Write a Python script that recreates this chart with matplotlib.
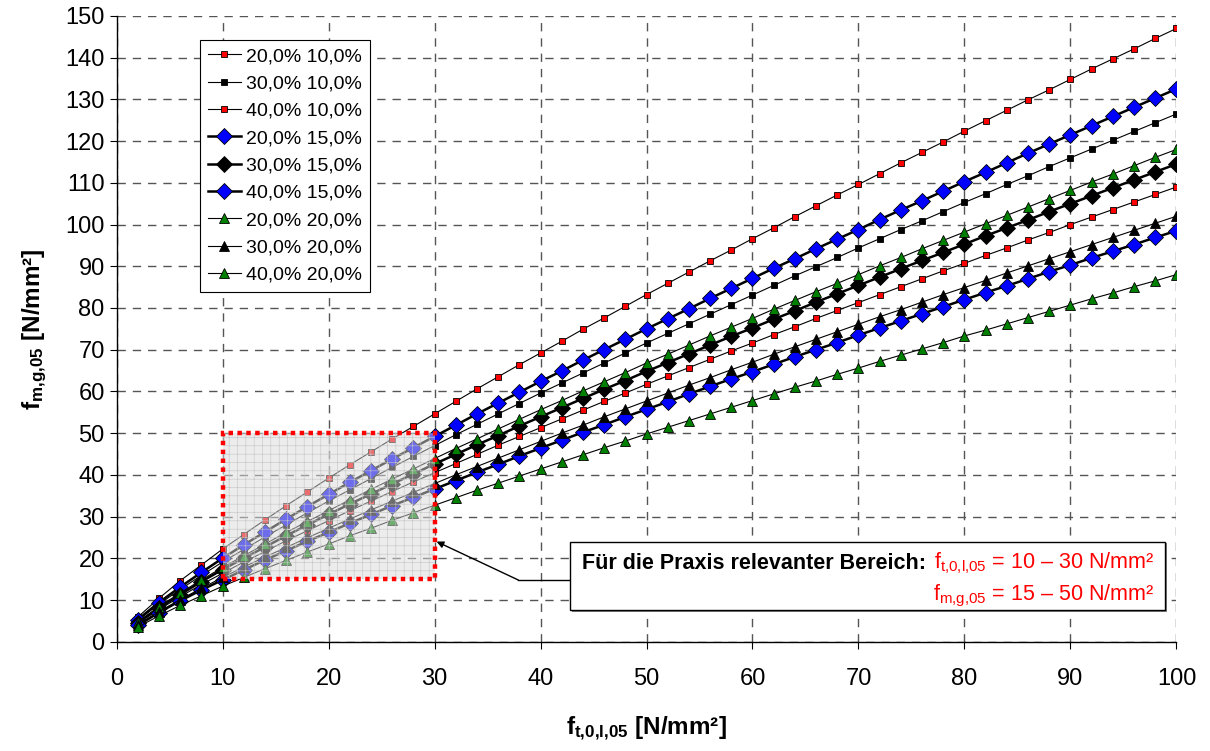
import matplotlib.pyplot as plt
import matplotlib.patches as patches
import numpy as np

plt.rcParams['font.family'] = ['Liberation Sans', 'DejaVu Sans']
plt.rcParams['mathtext.fontset'] = 'custom'
plt.rcParams['mathtext.rm'] = 'Liberation Sans'
plt.rcParams['mathtext.it'] = 'Liberation Sans'
plt.rcParams['mathtext.bf'] = 'Liberation Sans:bold'
plt.rcParams['hatch.linewidth'] = 0.4

#---------------- data
x = list(range(2, 101, 2))

s20_10 = [5.9, 10.4, 14.6, 18.4, 22.2, 25.7, 29.2, 32.6, 35.9, 39.2,
          42.4, 45.5, 48.6, 51.6, 54.6, 57.6, 60.6, 63.5, 66.4, 69.2,
          72.0, 74.9, 77.6, 80.4, 83.2, 85.9, 88.6, 91.3, 93.9, 96.6,
          99.2, 101.9, 104.5, 107.1, 109.6, 112.2, 114.8, 117.3, 119.8, 122.4,
          124.9, 127.4, 129.9, 132.3, 134.8, 137.3, 139.7, 142.1, 144.6, 147.0]
s30_10 = [5.1, 9.0, 12.5, 15.9, 19.1, 22.1, 25.1, 28.0, 30.9, 33.7,
          36.4, 39.1, 41.8, 44.4, 47.0, 49.6, 52.1, 54.6, 57.1, 59.6,
          62.0, 64.4, 66.8, 69.2, 71.6, 73.9, 76.2, 78.5, 80.8, 83.1,
          85.4, 87.7, 89.9, 92.1, 94.4, 96.6, 98.8, 100.9, 103.1, 105.3,
          107.4, 109.6, 111.7, 113.9, 116.0, 118.1, 120.2, 122.3, 124.4, 126.5]
s40_10 = [4.4, 7.7, 10.8, 13.7, 16.4, 19.1, 21.6, 24.2, 26.6, 29.0,
          31.4, 33.7, 36.0, 38.3, 40.5, 42.7, 44.9, 47.1, 49.2, 51.3,
          53.4, 55.5, 57.6, 59.6, 61.7, 63.7, 65.7, 67.7, 69.7, 71.6,
          73.6, 75.5, 77.5, 79.4, 81.3, 83.2, 85.1, 87.0, 88.9, 90.7,
          92.6, 94.4, 96.3, 98.1, 100.0, 101.8, 103.6, 105.4, 107.2, 109.0]
s20_15 = [5.3, 9.4, 13.1, 16.6, 20.0, 23.2, 26.3, 29.4, 32.4, 35.3,
          38.2, 41.0, 43.8, 46.5, 49.2, 51.9, 54.6, 57.2, 59.8, 62.4,
          64.9, 67.5, 70.0, 72.5, 75.0, 77.4, 79.8, 82.3, 84.7, 87.1,
          89.5, 91.8, 94.2, 96.5, 98.8, 101.2, 103.5, 105.7, 108.0, 110.3,
          112.5, 114.8, 117.1, 119.3, 121.5, 123.7, 125.9, 128.1, 130.3, 132.5]
s30_15 = [4.6, 8.1, 11.3, 14.4, 17.3, 20.0, 22.7, 25.4, 28.0, 30.5,
          33.0, 35.4, 37.8, 40.2, 42.6, 44.9, 47.2, 49.4, 51.7, 53.9,
          56.1, 58.3, 60.5, 62.6, 64.8, 66.9, 69.0, 71.1, 73.2, 75.2,
          77.3, 79.3, 81.4, 83.4, 85.4, 87.4, 89.4, 91.4, 93.3, 95.3,
          97.3, 99.2, 101.1, 103.1, 105.0, 106.9, 108.8, 110.7, 112.6, 114.5]
s40_15 = [3.9, 7.0, 9.8, 12.4, 14.8, 17.2, 19.6, 21.8, 24.1, 26.2,
          28.4, 30.5, 32.6, 34.6, 36.6, 38.6, 40.6, 42.5, 44.5, 46.4,
          48.3, 50.2, 52.0, 53.9, 55.7, 57.5, 59.4, 61.2, 63.0, 64.7,
          66.5, 68.3, 70.0, 71.7, 73.5, 75.2, 76.9, 78.6, 80.3, 82.0,
          83.7, 85.3, 87.0, 88.7, 90.3, 92.0, 93.6, 95.2, 96.9, 98.5]
s20_20 = [4.7, 8.4, 11.7, 14.8, 17.8, 20.6, 23.4, 26.2, 28.8, 31.4,
          34.0, 36.5, 39.0, 41.4, 43.9, 46.3, 48.6, 51.0, 53.3, 55.6,
          57.8, 60.1, 62.3, 64.5, 66.8, 68.9, 71.1, 73.3, 75.4, 77.5,
          79.7, 81.8, 83.9, 85.9, 88.0, 90.1, 92.1, 94.2, 96.2, 98.2,
          100.2, 102.2, 104.2, 106.2, 108.2, 110.2, 112.1, 114.1, 116.1, 118.0]
s30_20 = [4.1, 7.2, 10.1, 12.8, 15.4, 17.9, 20.3, 22.6, 24.9, 27.2,
          29.4, 31.6, 33.7, 35.8, 37.9, 40.0, 42.0, 44.0, 46.0, 48.0,
          50.0, 51.9, 53.9, 55.8, 57.7, 59.6, 61.5, 63.3, 65.2, 67.0,
          68.9, 70.7, 72.5, 74.3, 76.1, 77.9, 79.6, 81.4, 83.2, 84.9,
          86.6, 88.4, 90.1, 91.8, 93.5, 95.2, 96.9, 98.6, 100.3, 102.0]
s40_20 = [3.5, 6.2, 8.7, 11.0, 13.3, 15.4, 17.5, 19.5, 21.5, 23.4,
          25.4, 27.2, 29.1, 30.9, 32.7, 34.5, 36.3, 38.0, 39.7, 41.4,
          43.1, 44.8, 46.5, 48.1, 49.8, 51.4, 53.0, 54.6, 56.2, 57.8,
          59.4, 61.0, 62.5, 64.1, 65.6, 67.2, 68.7, 70.2, 71.7, 73.3,
          74.7, 76.2, 77.7, 79.2, 80.7, 82.2, 83.6, 85.1, 86.5, 88.0]

labels = ['20,0% 10,0%', '30,0% 10,0%', '40,0% 10,0%',
          '20,0% 15,0%', '30,0% 15,0%', '40,0% 15,0%',
          '20,0% 20,0%', '30,0% 20,0%', '40,0% 20,0%']
series = [s20_10, s30_10, s40_10, s20_15, s30_15, s40_15, s20_20, s30_20, s40_20]

# marker style per series: (marker, face colour, size, line width)
styles = [('s', '#ff0000', 5.0, 0.8), ('s', 'black', 5.0, 0.8), ('s', '#ff0000', 5.0, 0.8),
          ('D', '#0000ff', 8.0, 1.8), ('D', 'black', 8.0, 1.8), ('D', '#0000ff', 8.0, 1.8),
          ('^', '#008000', 6.5, 0.8), ('^', 'black', 6.5, 0.8), ('^', '#008000', 6.5, 0.8)]

#---------------
fig = plt.figure(figsize=(12.1, 7.51), dpi=100)
ax = fig.add_axes([0.0963, 0.1455, 0.876, 0.8333])

for y, lab, (m, fc, ms, lw) in zip(series, labels, styles):
    ax.plot(x, y, marker=m, color='black', lw=lw, mfc=fc, mec='black',
            ms=ms, mew=0.6, label=lab, zorder=3)

ax.set_xlim(0, 100)
ax.set_ylim(0, 150)
ax.set_xticks(np.arange(0, 101, 10))
ax.set_yticks(np.arange(0, 151, 10))
ax.grid(True, color='#555555', linestyle=(0, (6, 5)), linewidth=1.0, zorder=1)
ax.set_axisbelow(True)
for side in ['top', 'right']:
    ax.spines[side].set_visible(False)
ax.spines['left'].set_linewidth(1.0)
ax.spines['bottom'].set_linewidth(1.0)
ax.tick_params(axis='both', direction='out', length=5, width=0.8, labelsize=17)
ax.tick_params(axis='x', pad=14)

ax.set_xlabel(r'$\mathbf{f}_{\mathbf{t{,}0{,}l{,}05}}$ [N/mm²]', fontsize=17.5,
              fontweight='bold', labelpad=18)
ax.set_ylabel(r'$\mathbf{f}_{\mathbf{m{,}g{,}05}}$ [N/mm²]', fontsize=17.5,
              fontweight='bold', labelpad=12)

# relevant range
shade = patches.Rectangle((10, 15), 20, 35, facecolor=(0.86, 0.86, 0.86, 0.5),
                          edgecolor='#c4c4c4', lw=0, hatch='++', zorder=4)
ax.add_patch(shade)
border = patches.Rectangle((10, 15), 20, 35, fill=False, edgecolor='#ff0000',
                           lw=3.2, linestyle=(0, (1, 1)), zorder=5)
ax.add_patch(border)

# annotation box
shadow = patches.Rectangle((43.0, 7.2), 56.1, 16.4, facecolor='#7f7f7f',
                           lw=0, zorder=6)
ax.add_patch(shadow)
box = patches.Rectangle((42.8, 7.6), 56.1, 16.4, facecolor='white',
                        edgecolor='black', lw=1.0, zorder=7)
ax.add_patch(box)
ax.plot([37.9, 42.8], [14.8, 14.8], color='black', lw=1.0, zorder=6)
ax.annotate('', xy=(30.2, 24.0), xytext=(37.9, 14.8),
            arrowprops=dict(arrowstyle='-|>', color='black', lw=1.0,
                            mutation_scale=10, shrinkA=0, shrinkB=0),
            zorder=6)
ax.text(43.9, 18.8, 'Für die Praxis relevanter Bereich:', fontsize=15.5,
        fontweight='bold', ha='left', va='center', zorder=8)
ax.text(97.9, 18.8, r'$\mathrm{f}_{\mathrm{t{,}0{,}l{,}05}}$ = 10 – 30 N/mm²', fontsize=15.5,
        color='#ff0000', ha='right', va='center', zorder=8)
ax.text(97.9, 10.9, r'$\mathrm{f}_{\mathrm{m{,}g{,}05}}$ = 15 – 50 N/mm²', fontsize=15.5,
        color='#ff0000', ha='right', va='center', zorder=8)

leg = ax.legend(loc='upper left', bbox_to_anchor=(0.0785, 0.962), fontsize=14,
                frameon=True, fancybox=False, edgecolor='black', framealpha=1,
                handlelength=1.7, handletextpad=0.3, labelspacing=0.5,
                borderpad=0.4, borderaxespad=0)
leg.get_frame().set_linewidth(0.8)
leg.set_zorder(10)

fig.savefig('out.png', dpi=100)
